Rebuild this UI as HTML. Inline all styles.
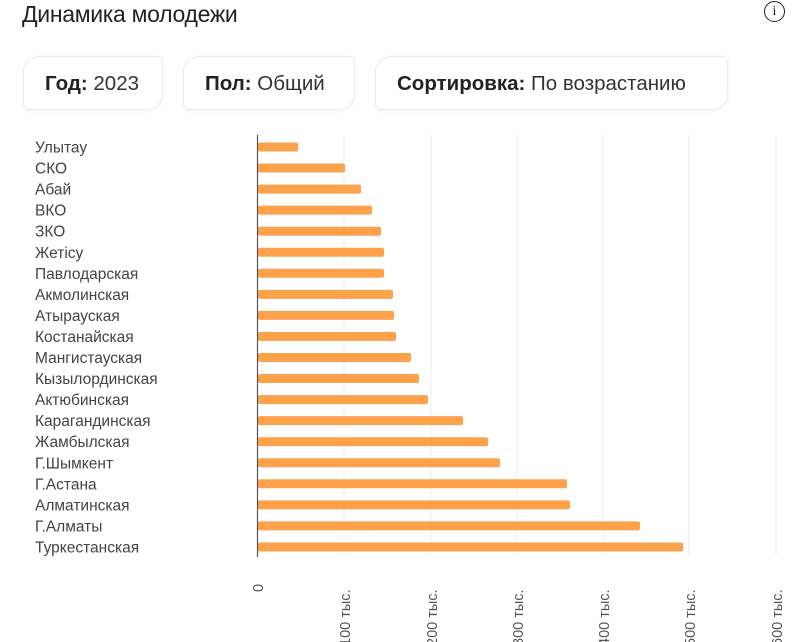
<!DOCTYPE html>
<html><head><meta charset="utf-8"><style>
body{margin:0;width:800px;height:642px;background:#fff;overflow:hidden;font-family:"Liberation Sans","DejaVu Sans",sans-serif;position:relative}
.t{position:absolute;left:22px;top:1px;font-size:23px;color:#222;letter-spacing:-0.3px}
.i{position:absolute;left:764px;top:1px;width:19px;height:19px;border:1.6px solid #222;border-radius:50%;font-size:14px;text-align:center;line-height:19px;color:#222;font-family:"Liberation Serif",serif}
.b{position:absolute;top:56px;height:54px;border:1px solid #ececec;border-radius:16px 6px 16px 6px;box-shadow:0 1px 3px rgba(0,0,0,0.06);font-size:20.5px;color:#333;line-height:54px;box-sizing:border-box;padding-left:21px;white-space:nowrap}
.b b{color:#222}
</style></head><body>
<div class="t">Динамика молодежи</div>
<div class="i">i</div>
<div class="b" style="left:23px;width:140px"><b>Год:</b> 2023</div>
<div class="b" style="left:183px;width:172px"><b>Пол:</b> Общий</div>
<div class="b" style="left:375px;width:353px"><b>Сортировка:</b> По возрастанию</div>
<svg width="800" height="642" style="position:absolute;left:0;top:0" font-family="Liberation Sans, sans-serif">
<g stroke="#ececec" stroke-width="1">
<line x1="344" y1="135" x2="344" y2="556"/><line x1="431" y1="135" x2="431" y2="556"/><line x1="517" y1="135" x2="517" y2="556"/><line x1="603" y1="135" x2="603" y2="556"/><line x1="689" y1="135" x2="689" y2="556"/><line x1="776" y1="135" x2="776" y2="556"/>
</g>
<g id="bars" fill="#fda14b"></g>
<g id="labels" font-size="15.5" fill="#444"></g>
<line x1="257.5" y1="135" x2="257.5" y2="557" stroke="#555" stroke-width="1.2"/>
<g font-size="14.5" fill="#555">
<text transform="translate(263,592) rotate(-90)">0</text>
<text transform="translate(350,646) rotate(-90)">100 тыс.</text>
<text transform="translate(437,646) rotate(-90)">200 тыс.</text>
<text transform="translate(523,646) rotate(-90)">300 тыс.</text>
<text transform="translate(609,646) rotate(-90)">400 тыс.</text>
<text transform="translate(695,646) rotate(-90)">500 тыс.</text>
<text transform="translate(782,646) rotate(-90)">600 тыс.</text>
</g>
</svg>
<script>
var n=["Улытау","СКО","Абай","ВКО","ЗКО","Жетісу","Павлодарская","Акмолинская","Атырауская","Костанайская","Мангистауская","Кызылординская","Актюбинская","Карагандинская","Жамбылская","Г.Шымкент","Г.Астана","Алматинская","Г.Алматы","Туркестанская"];
var e=[298,345,361,372,381,384,384,393,394,396,411,419,428,463,488,500,567,570,640,683];
var b='',l='';
for(var k=0;k<20;k++){var c=147+k*21.05;
b+='<rect x="258" y="'+(c-4.5)+'" width="'+(e[k]-258)+'" height="9" rx="2"/>';
l+='<text x="35" y="'+(c+5.5)+'">'+n[k]+'</text>';}
document.getElementById('bars').innerHTML=b;
document.getElementById('labels').innerHTML=l;
</script>
</body></html>
